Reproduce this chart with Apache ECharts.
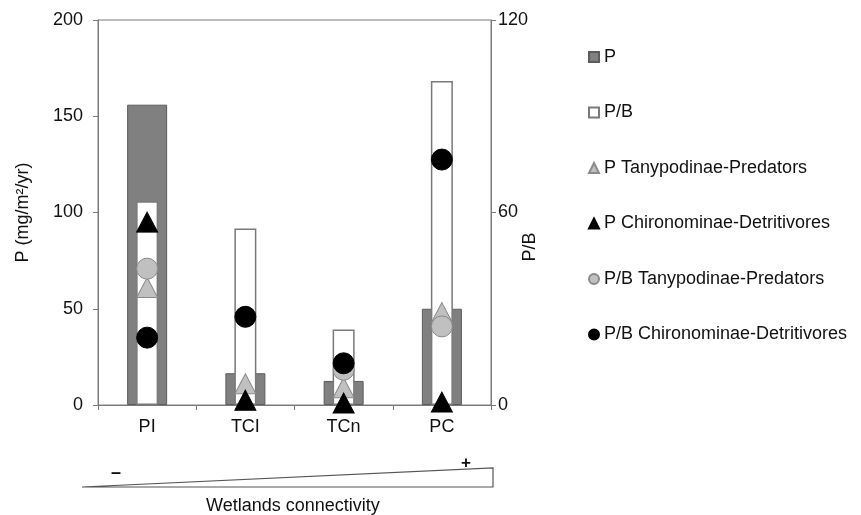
<!DOCTYPE html>
<html>
<head>
<meta charset="utf-8">
<script src="https://cdn.jsdelivr.net/npm/echarts@6/dist/echarts.min.js"></script>
<style>
  html, body { margin: 0; padding: 0; background: #ffffff; }
  #chart { width: 861px; height: 515px; }
</style>
</head>
<body>
<div id="chart"></div>
<script>
// Sites ordered from low to high wetland connectivity
const categories = ['PI', 'TCI', 'TCn', 'PC'];

// Production P (mg/m2/yr), left axis
const productionP = [156, 16.5, 12.5, 50];
// Production / biomass ratio, right axis
const ratioPB = [63.5, 55, 23.5, 101];

// Production by feeding group (left axis)
const pTanypodinae = [61, 11, 9, 48];
const pChironominae = [95, 2.5, 1, 1.5];

// P/B by feeding group (right axis)
const pbTanypodinae = [42.5, null, 11, 24.5];
const pbChironominae = [21, 27.5, 13, 76.5];

// Axis tick values
const leftTicks = { min: 0, max: 200, interval: 50 };
const rightTicks = { min: 0, max: 120, interval: 60 };

const FONT = 'Liberation Sans, Arial, sans-serif';
const AXIS_GREY = '#7a7a7a';
const TEXT = '#111111';

const chart = echarts.init(document.getElementById('chart'), null, { renderer: 'canvas' });

const yAxisCommon = {
  type: 'value',
  splitLine: { show: false },
  axisLine: { show: true, lineStyle: { color: AXIS_GREY, width: 1 } },
  axisTick: { show: true, inside: false, length: 5, lineStyle: { color: AXIS_GREY } },
  nameLocation: 'middle',
  nameTextStyle: { fontSize: 18, color: TEXT, fontFamily: FONT },
  axisLabel: { fontSize: 18, color: TEXT, fontFamily: FONT }
};

const option = {
  backgroundColor: '#ffffff',
  animation: false,
  grid: {
    left: 98, right: 370, top: 20, bottom: 110,
    show: true, borderColor: AXIS_GREY, borderWidth: 1, backgroundColor: 'transparent'
  },
  legend: {
    orient: 'vertical',
    left: 583,
    top: 43,
    itemGap: 37.5,
    itemWidth: 10,
    itemHeight: 10,
    textStyle: { fontSize: 18, color: TEXT, fontFamily: FONT, padding: [0, 0, 0, 0] },
    data: [
      { name: 'P', icon: 'rect' },
      { name: 'P/B', icon: 'rect' },
      { name: 'P Tanypodinae-Predators', icon: 'triangle' },
      { name: 'P Chironominae-Detritivores', icon: 'triangle' },
      { name: 'P/B Tanypodinae-Predators', icon: 'circle' },
      { name: 'P/B Chironominae-Detritivores', icon: 'circle' }
    ]
  },
  xAxis: [
    {
      type: 'category',
      data: categories,
      boundaryGap: true,
      axisLine: { show: true, lineStyle: { color: AXIS_GREY, width: 1 } },
      axisTick: { show: true, length: 5, alignWithLabel: false, lineStyle: { color: AXIS_GREY } },
      axisLabel: { fontSize: 18, color: TEXT, fontFamily: FONT, margin: 13 },
      splitLine: { show: false }
    },
    {
      type: 'category',
      data: categories,
      boundaryGap: true,
      show: false
    }
  ],
  yAxis: [
    Object.assign({}, yAxisCommon, {
      position: 'left',
      min: leftTicks.min, max: leftTicks.max, interval: leftTicks.interval,
      name: 'P (mg/m²/yr)',
      nameGap: 66,
      axisLabel: Object.assign({}, yAxisCommon.axisLabel, { margin: 15 })
    }),
    Object.assign({}, yAxisCommon, {
      position: 'right',
      min: rightTicks.min, max: rightTicks.max, interval: rightTicks.interval,
      axisLabel: Object.assign({}, yAxisCommon.axisLabel, { margin: 7 })
    })
  ],
  series: [
    {
      name: 'P', type: 'bar', xAxisIndex: 0, yAxisIndex: 0,
      data: productionP, barWidth: 40,
      itemStyle: { color: '#808080', borderColor: '#5c5c5c', borderWidth: 1 }
    },
    {
      name: 'P/B', type: 'bar', xAxisIndex: 1, yAxisIndex: 1,
      data: ratioPB, barWidth: 22,
      itemStyle: { color: '#ffffff', borderColor: '#7a7a7a', borderWidth: 1.5 }
    },
    {
      name: 'P Tanypodinae-Predators', type: 'scatter', xAxisIndex: 0, yAxisIndex: 0,
      data: pTanypodinae, symbol: 'triangle', symbolSize: [21, 20],
      itemStyle: { color: '#c0c0c0', borderColor: '#8a8a8a', borderWidth: 1, opacity: 1 }
    },
    {
      name: 'P Chironominae-Detritivores', type: 'scatter', xAxisIndex: 0, yAxisIndex: 0,
      data: pChironominae, symbol: 'triangle', symbolSize: [21, 20],
      itemStyle: { color: '#000000', borderColor: '#000000', borderWidth: 1, opacity: 1 }
    },
    {
      name: 'P/B Tanypodinae-Predators', type: 'scatter', xAxisIndex: 0, yAxisIndex: 1,
      data: pbTanypodinae, symbol: 'circle', symbolSize: 21,
      itemStyle: { color: '#c0c0c0', borderColor: '#8a8a8a', borderWidth: 1, opacity: 1 }
    },
    {
      name: 'P/B Chironominae-Detritivores', type: 'scatter', xAxisIndex: 0, yAxisIndex: 1,
      data: pbChironominae, symbol: 'circle', symbolSize: 21,
      itemStyle: { color: '#000000', borderColor: '#000000', borderWidth: 1, opacity: 1 }
    }
  ],
  graphic: [
    // right axis title, set a little below the axis middle
    {
      type: 'text', x: 530, y: 247, rotation: Math.PI / 2,
      style: {
        text: 'P/B', fontSize: 18, fill: TEXT, fontFamily: FONT,
        align: 'center', verticalAlign: 'middle'
      }
    },
    // connectivity wedge under the x axis
    {
      type: 'polygon',
      shape: { points: [[82, 487], [493, 468], [493, 487]] },
      style: { fill: '#ffffff', stroke: '#555555', lineWidth: 1.2 }
    },
    {
      type: 'text', left: 111, top: 464,
      style: { text: '–', fontSize: 18, fontWeight: 'bold', fill: TEXT, fontFamily: FONT }
    },
    {
      type: 'text', left: 461, top: 455,
      style: { text: '+', fontSize: 17, fontWeight: 'bold', fill: TEXT, fontFamily: FONT }
    },
    {
      type: 'text', left: 206, top: 497,
      style: { text: 'Wetlands connectivity', fontSize: 18, fill: TEXT, fontFamily: FONT }
    }
  ]
};

chart.setOption(option);
</script>
</body>
</html>
